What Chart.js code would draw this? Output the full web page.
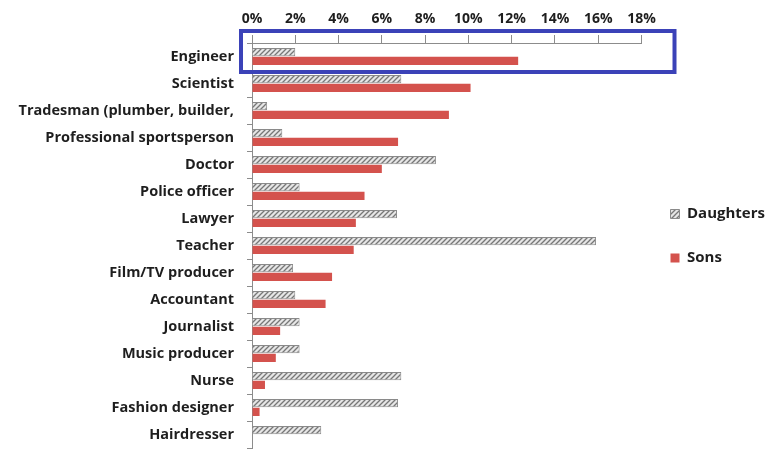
<!DOCTYPE html>
<html>
<head>
<meta charset="utf-8">
<script src="https://cdn.jsdelivr.net/npm/chart.js@4.4.1/dist/chart.umd.min.js"></script>
<style>
  html, body { margin: 0; padding: 0; background: #fff; }
  #wrap { width: 775px; height: 450px; position: relative; }
</style>
</head>
<body>
<div id="wrap"><canvas id="jobs"></canvas></div>
<script>

// careers, top to bottom
const careers = [
      'Engineer', 'Scientist', 'Tradesman (plumber, builder,', 'Professional sportsperson',
      'Doctor', 'Police officer', 'Lawyer', 'Teacher', 'Film/TV producer', 'Accountant',
      'Journalist', 'Music producer', 'Nurse', 'Fashion designer', 'Hairdresser'
]

// share of parents picking the career (%)
const daughters = [2.0, 6.9, 0.7, 1.4, 8.5, 2.2, 6.7, 15.9, 1.9, 2.0, 2.2, 2.2, 6.9, 6.75, 3.2]
const sons      = [12.3, 10.1, 9.1, 6.75, 6.0, 5.2, 4.8, 4.7, 3.7, 3.4, 1.3, 1.1, 0.6, 0.35, 0]

const pctTicks = [0, 2, 4, 6, 8, 10, 12, 14, 16, 18]

const FONT = '"Open Sans", Lato, sans-serif'


//grey diagonal hatch for the daughters bars
function hatch(){
      const c = document.createElement('canvas')
      c.width = 5; c.height = 5
      const g = c.getContext('2d')
      g.fillStyle = '#e6e6e6'
      g.fillRect(0, 0, 5, 5)
      g.strokeStyle = '#777'
      g.lineWidth = 1.3
      g.beginPath()
      g.moveTo(0, 5); g.lineTo(5, 0)
      g.moveTo(-1, 1); g.lineTo(1, -1)
      g.moveTo(4, 6); g.lineTo(6, 4)
      g.stroke()
      return g.createPattern(c, 'repeat')
}


//blue frame round the first row
const frameFirstRow = {
      id: 'frameFirstRow',
      afterDraw(chart){
            const { ctx, scales } = chart
            const x = scales.x, y = scales.y
            const half = (y.getPixelForValue(1) - y.getPixelForValue(0)) / 2
            const top    = y.top - 12
            const bottom = y.getPixelForValue(0) + half + 2
            const left   = x.getPixelForValue(0) - 11
            const right  = x.getPixelForValue(18) + 33
            ctx.save()
            ctx.strokeStyle = '#3b42b8'
            ctx.lineWidth = 4
            ctx.strokeRect(left, top, right - left, bottom - top)
            ctx.restore()
      }
}


const setup = {
      type: 'bar',
      data: {
            labels: careers,
            datasets: [
                  {
                        label: 'Daughters',
                        data: daughters,
                        backgroundColor: hatch(),
                        borderColor: '#8a8a8a',
                        borderWidth: 1,
                        categoryPercentage: 0.64,
                        barPercentage: 0.95,
                  },
                  {
                        label: 'Sons',
                        data: sons,
                        backgroundColor: '#d4524d',
                        borderWidth: 0,
                        categoryPercentage: 0.64,
                        barPercentage: 0.95,
                  },
            ]
      },
      options: {
            responsive: true,
            maintainAspectRatio: false,
            animation: false,
            indexAxis: 'y',
            layout: { padding: { top: 0, right: 0, bottom: 2, left: 0 } },
            scales: {
                  x: {
                        position: 'top',
                        min: 0,
                        max: 18,
                        afterBuildTicks: (s) => { s.ticks = pctTicks.map(v => ({ value: v })) },
                        afterFit: (s) => { s.height = 43 },
                        border: { display: true, color: '#8c8c8c', width: 1 },
                        grid: { drawOnChartArea: false, tickLength: 8, color: '#8c8c8c' },
                        ticks: {
                              padding: 8,
                              color: '#1e1e1e',
                              font: { family: FONT, size: 14, weight: 'bold' },
                              callback: (v) => v + '%'
                        }
                  },
                  y: {
                        afterFit: (s) => { s.width = 252; s.paddingTop = 0; s.paddingBottom = 0 },
                        border: { display: true, color: '#8c8c8c', width: 1 },
                        grid: { drawOnChartArea: false, offset: true, tickLength: 5, color: '#8c8c8c' },
                        ticks: {
                              padding: 13,
                              autoSkip: false,
                              color: '#1e1e1e',
                              font: { family: FONT, size: 14.5, weight: 'bold' }
                        }
                  }
            },
            plugins: {
                  tooltip: { enabled: false },
                  legend: {
                        display: true,
                        position: 'right',
                        //empty title, only nudges the two items down a little
                        title: { display: true, text: ' ', padding: 6, font: { size: 10 } },
                        labels: {
                              boxWidth: 9,
                              boxHeight: 9,
                              padding: 29,
                              color: '#1e1e1e',
                              font: { family: FONT, size: 15, weight: 'bold' }
                        }
                  }
            }
      },
      plugins: [frameFirstRow]
}

new Chart(document.getElementById('jobs'), setup)

</script>
</body>
</html>
